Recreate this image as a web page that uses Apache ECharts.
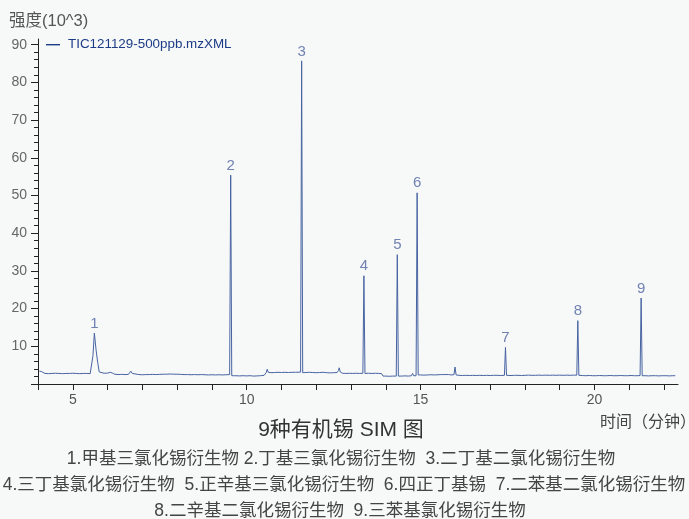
<!DOCTYPE html>
<html>
<head>
<meta charset="utf-8">
<script src="https://cdn.jsdelivr.net/npm/echarts@6.0.0/dist/echarts.min.js"></script>
<style>
  html, body { margin: 0; padding: 0; background: #f7f8f8; }
  #chart { width: 689px; height: 519px; }
</style>
</head>
<body>
<div id="chart"></div>
<script>
// Total ion chromatogram of the 500 ppb organotin standard (SIM mode)
const seriesName = 'TIC121129-500ppb.mzXML';

// Numbered compound peaks: retention time (min) and apex intensity (x10^3)
const peakNo = ['1', '2', '3', '4', '5', '6', '7', '8', '9'];
const peakTime = [5.62, 9.54, 11.58, 13.37, 14.33, 14.90, 17.44, 19.52, 21.34];
const peakHeight = [13.5, 55.4, 85.7, 28.7, 34.3, 50.7, 9.7, 16.8, 22.8];

// Axis ticks and labels
const xTickValues = [4, 5, 6, 7, 8, 9, 10, 11, 12, 13, 14, 15, 16, 17, 18, 19, 20, 21, 22];
const xLabelValues = [5, 10, 15, 20];
const yMajorTicks = [0, 10, 20, 30, 40, 50, 60, 70, 80, 90];
const yLabelValues = [10, 20, 30, 40, 50, 60, 70, 80, 90];

const captionLines = [
  '1.甲基三氯化锡衍生物 2.丁基三氯化锡衍生物  3.二丁基二氯化锡衍生物',
  '4.三丁基氯化锡衍生物  5.正辛基三氯化锡衍生物  6.四正丁基锡  7.二苯基二氯化锡衍生物',
  '8.二辛基二氯化锡衍生物  9.三苯基氯化锡衍生物'
];

// Signal trace [time (min), intensity (x10^3)]
const tic = [
  [4.04, 3.4], [4.10, 3.3], [4.14, 2.9], [4.20, 2.8], [4.30, 2.75], [4.40, 2.8], [4.50, 2.85],
  [4.60, 2.8], [4.70, 2.75], [4.80, 2.8], [4.90, 2.8], [5.00, 2.85], [5.10, 2.8], [5.20, 2.75],
  [5.30, 2.8], [5.40, 2.8], [5.50, 2.75], [5.55, 2.8],
  [5.58, 7.5], [5.62, 13.5], [5.67, 9.0], [5.72, 5.5], [5.76, 3.2], [5.80, 2.8],
  [5.90, 2.85], [6.00, 2.9], [6.08, 3.1], [6.14, 2.9], [6.20, 2.6], [6.30, 2.5], [6.40, 2.55],
  [6.50, 2.5], [6.60, 2.55], [6.64, 2.9], [6.67, 3.4], [6.71, 2.8], [6.76, 2.5], [6.90, 2.5],
  [7.00, 2.45], [7.10, 2.5], [7.20, 2.5], [7.30, 2.55], [7.40, 2.5], [7.50, 2.55], [7.60, 2.6],
  [7.70, 2.6], [7.80, 2.65], [7.90, 2.6], [8.00, 2.6], [8.10, 2.55], [8.20, 2.5], [8.30, 2.5],
  [8.40, 2.45], [8.50, 2.5], [8.60, 2.45], [8.70, 2.5], [8.80, 2.45], [8.90, 2.4], [9.00, 2.45],
  [9.10, 2.4], [9.20, 2.45], [9.30, 2.4], [9.40, 2.45], [9.51, 2.5],
  [9.54, 55.4], [9.57, 2.2],
  [9.65, 2.2], [9.80, 2.15], [9.90, 2.2], [10.00, 2.15], [10.10, 2.2], [10.20, 2.1], [10.30, 2.15],
  [10.40, 2.2], [10.50, 2.3], [10.56, 3.0], [10.59, 3.9], [10.62, 3.1], [10.70, 3.0], [10.80, 3.05],
  [10.90, 3.1], [11.00, 3.05], [11.10, 3.1], [11.20, 3.05], [11.30, 3.1], [11.40, 3.1], [11.55, 3.15],
  [11.58, 85.7], [11.61, 3.0],
  [11.70, 3.05], [11.80, 3.1], [11.90, 3.05], [12.00, 3.0], [12.10, 3.05], [12.20, 3.1], [12.30, 3.0],
  [12.40, 2.95], [12.50, 3.0], [12.60, 3.05], [12.64, 3.6], [12.66, 4.3], [12.69, 3.2], [12.75, 2.85],
  [12.85, 2.8], [12.95, 2.85], [13.05, 2.8], [13.15, 2.85], [13.25, 2.8], [13.34, 2.85],
  [13.37, 28.7], [13.40, 2.8],
  [13.50, 2.85], [13.60, 2.8], [13.70, 2.85], [13.80, 2.8], [13.88, 2.75], [13.92, 2.1], [14.00, 2.1],
  [14.10, 2.05], [14.20, 2.1], [14.30, 2.1],
  [14.33, 34.3], [14.36, 2.1],
  [14.45, 2.1], [14.55, 2.15], [14.65, 2.1], [14.74, 2.2], [14.77, 2.8], [14.80, 2.2], [14.87, 2.2],
  [14.90, 50.7], [14.93, 2.4],
  [15.00, 2.4], [15.10, 2.35], [15.20, 2.4], [15.30, 2.45], [15.40, 2.4], [15.50, 2.45], [15.60, 2.5],
  [15.70, 2.5], [15.75, 3.0], [15.80, 2.5], [15.90, 2.4], [15.96, 2.5], [15.99, 4.5], [16.02, 2.4],
  [16.10, 2.3], [16.20, 2.25], [16.30, 2.3], [16.40, 2.25], [16.50, 2.3], [16.60, 2.25], [16.70, 2.3],
  [16.80, 2.25], [16.90, 2.3], [17.00, 2.25], [17.10, 2.3], [17.20, 2.3], [17.30, 2.25], [17.41, 2.3],
  [17.44, 9.7], [17.47, 2.3],
  [17.60, 2.25], [17.70, 2.3], [17.80, 2.3], [17.90, 2.25], [18.00, 2.3], [18.10, 2.35], [18.20, 2.3],
  [18.30, 2.3], [18.40, 2.35], [18.50, 2.3], [18.60, 2.35], [18.70, 2.3], [18.80, 2.35], [18.90, 2.3],
  [19.00, 2.35], [19.10, 2.3], [19.20, 2.35], [19.30, 2.3], [19.40, 2.35], [19.49, 2.35],
  [19.52, 16.8], [19.55, 2.3],
  [19.65, 2.25], [19.75, 2.2], [19.85, 2.25], [19.95, 2.2], [20.05, 2.2], [20.15, 2.25], [20.25, 2.2],
  [20.35, 2.2], [20.45, 2.25], [20.55, 2.2], [20.65, 2.2], [20.75, 2.25], [20.85, 2.2], [20.95, 2.2],
  [21.05, 2.25], [21.15, 2.2], [21.25, 2.2], [21.31, 2.25],
  [21.34, 22.8], [21.37, 2.2],
  [21.45, 2.2], [21.55, 2.15], [21.65, 2.2], [21.75, 2.2], [21.85, 2.15], [21.95, 2.2], [22.05, 2.2],
  [22.15, 2.15], [22.25, 2.2], [22.32, 2.2]
];

// Short ticks every 2 units between the labelled ones
const yMinorTicks = [];
for (let v = 0; v <= 90; v += 2) { if (v % 10 !== 0) yMinorTicks.push(v); }

const FONT = '"Liberation Sans", "Noto Sans CJK SC", sans-serif';
const axisColor = '#222';
const traceColor = '#4764a2';
const navy = '#1d3c87';

const chart = echarts.init(document.getElementById('chart'), null, { renderer: 'canvas' });

chart.setOption({
  backgroundColor: '#f7f8f8',
  animation: false,
  grid: { left: 38, right: 11, top: 39, bottom: 135 },
  legend: {
    left: 46, top: 38, padding: 0,
    itemWidth: 14, itemHeight: 1.4,
    data: [{ name: seriesName, icon: 'rect', itemStyle: { color: navy } }],
    textStyle: { color: navy, fontSize: 13.4, fontFamily: FONT, padding: [0, 0, 0, 3] }
  },
  xAxis: {
    type: 'value', min: 4, max: 22.4, interval: 1,
    axisLine: { lineStyle: { color: axisColor, width: 1 } },
    axisTick: { customValues: xTickValues, length: 6, lineStyle: { color: axisColor } },
    axisLabel: {
      customValues: xLabelValues, margin: 9, color: '#555', fontSize: 14, fontFamily: FONT,
      formatter: v => (v % 5 === 0 ? String(v) : '')
    },
    splitLine: { show: false }
  },
  yAxis: [
    {
      type: 'value', min: 0, max: 91.5, interval: 10, position: 'left',
      axisLine: { show: true, lineStyle: { color: axisColor, width: 1 } },
      axisTick: { show: true, customValues: yMajorTicks, length: 7, lineStyle: { color: axisColor } },
      axisLabel: {
        customValues: yLabelValues, margin: 11, color: '#666', fontSize: 14, fontFamily: FONT,
        formatter: v => (v > 0 && v % 10 === 0 ? String(v) : '')
      },
      splitLine: { show: false }
    },
    {
      type: 'value', min: 0, max: 91.5, interval: 10, position: 'left',
      axisLine: { show: false },
      axisTick: { show: true, customValues: yMinorTicks, length: 4, lineStyle: { color: axisColor } },
      axisLabel: { show: false },
      splitLine: { show: false }
    }
  ],
  series: [
    {
      name: seriesName, type: 'line', data: tic,
      showSymbol: false, symbol: 'none',
      lineStyle: { color: traceColor, width: 1 },
      itemStyle: { color: traceColor },
      z: 3
    },
    {
      name: 'peaks', type: 'scatter', symbolSize: 0,
      data: peakTime.map((t, i) => [t, peakHeight[i]]),
      label: {
        show: true, position: 'top', distance: 2,
        formatter: p => peakNo[p.dataIndex],
        color: '#4d64a0', fontSize: 15, fontFamily: FONT
      },
      silent: true, z: 4
    }
  ],
  graphic: [
    { type: 'text', x: 9, y: 21, style: { text: '强度(10^3)', font: '16.5px ' + FONT, fill: '#555', align: 'left', verticalAlign: 'middle' } },
    { type: 'text', x: 600, y: 423, style: { text: '时间（分钟）', font: '16px ' + FONT, fill: '#444', align: 'left', verticalAlign: 'middle' } },
    { type: 'text', x: 341, y: 430, style: { text: '9种有机锡 SIM 图', font: '21px ' + FONT, fill: '#333', align: 'center', verticalAlign: 'middle' } },
    { type: 'text', x: 341, y: 459, style: { text: captionLines[0], font: '17.5px ' + FONT, fill: '#444', align: 'center', verticalAlign: 'middle' } },
    { type: 'text', x: 344, y: 485, style: { text: captionLines[1], font: '17.5px ' + FONT, fill: '#444', align: 'center', verticalAlign: 'middle' } },
    { type: 'text', x: 340, y: 511, style: { text: captionLines[2], font: '17.5px ' + FONT, fill: '#444', align: 'center', verticalAlign: 'middle' } }
  ]
});
</script>
</body>
</html>
